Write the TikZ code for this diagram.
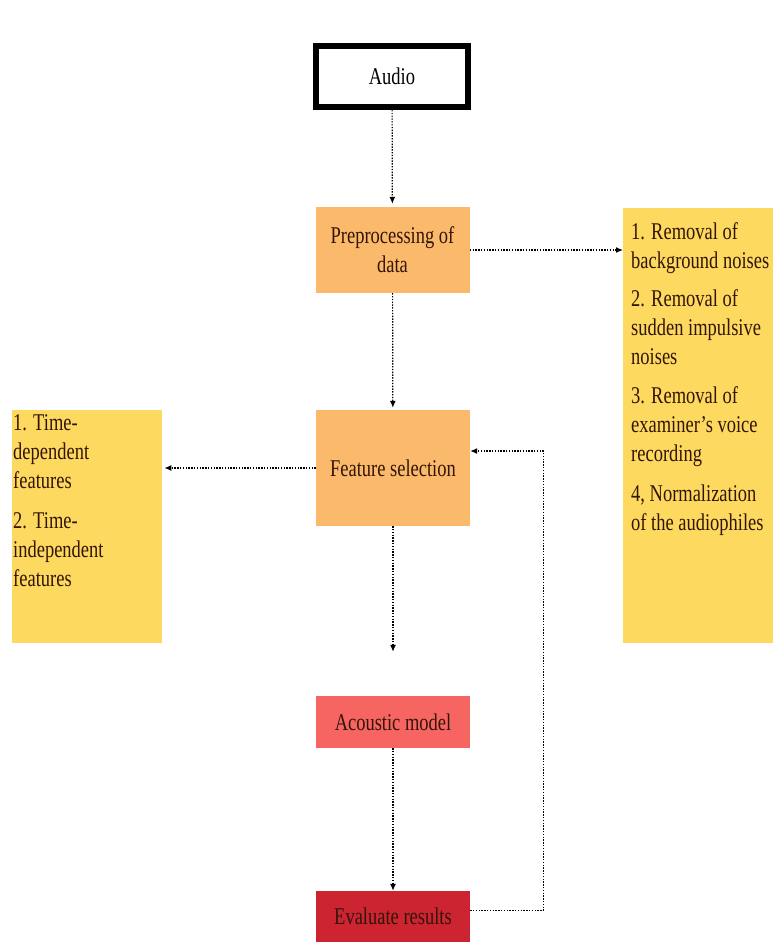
\documentclass[tikz,border=0pt]{standalone}
\usepackage{fontspec}
\setmainfont[FakeStretch=0.77]{Liberation Serif}
\usetikzlibrary{arrows.meta,calc}

\definecolor{stageorange}{HTML}{FBBA6B}
\definecolor{noteyellow}{HTML}{FDDA5F}
\definecolor{modelred}{HTML}{F76563}
\definecolor{evalred}{HTML}{CC2430}
\definecolor{inkbrown}{HTML}{331508}

\tikzset{
  stage/.style={rectangle, draw=none, minimum width=154pt, text=inkbrown,
    font=\fontsize{24}{29}\selectfont, align=center, inner sep=0pt},
  notebox/.style={rectangle, draw=none, fill=noteyellow, inner sep=0pt},
  notetext/.style={anchor=north west, align=left, inner sep=0pt, text=inkbrown,
    font=\fontsize{24}{29}\selectfont},
  flow/.style={line width=1.2pt, dash pattern=on 1.4pt off 1.4pt,
    -{Latex[length=7pt,width=6pt]}},
}

\begin{document}
\begin{tikzpicture}[x=1pt,y=-1pt]
  \useasboundingbox (0,0) rectangle (773,948);

  % main pipeline
  \node[rectangle, draw=black, line width=6pt, fill=white, minimum width=152pt,
        minimum height=61pt, font=\fontsize{24}{29}\selectfont, inner sep=0pt]
        (audio) at (392,76.5) {Audio};
  \node[stage, fill=stageorange, minimum height=86pt] (pre) at (392.5,250) {Preprocessing of\\data};
  \node[stage, fill=stageorange, minimum height=116pt] (fs) at (393,468) {Feature selection};
  \node[stage, fill=modelred, minimum height=52pt] (am) at (393,722) {Acoustic model};
  \node[stage, fill=evalred, minimum height=51pt] (ev) at (393,916.5) {Evaluate results};

  % side notes
  \node[notebox, minimum width=150pt, minimum height=435pt, anchor=north west] (rbox) at (623,208) {};
  \node[notetext] (rtext) at (631,222) {1. Removal of\\background noises\\[9pt]
    2. Removal of\\sudden impulsive\\noises\\[10pt]
    3. Removal of\\examiner’s voice\\recording\\[11pt]
    4, Normalization\\of the audiophiles};

  \node[notebox, minimum width=150pt, minimum height=233pt, anchor=north west] (lbox) at (12,410) {};
  \node[notetext] (ltext) at (13,414) {1. Time-\\dependent\\features\\[11pt]
    2. Time-\\independent\\features};

  % connectors
  \draw[flow, shorten >=3pt] (audio) -- (pre);
  \draw[flow, shorten >=2pt] (pre) -- (fs);
  \draw[flow, shorten >=44pt] (fs) -- (am);
  \draw[flow] (am) -- (ev);
  \draw[flow] (pre.east) -- (pre.east -| rbox.west);
  \draw[flow, shorten >=2pt] (fs.west) -- (fs.west -| lbox.east);
  % feedback loop from the evaluation back to feature selection
  \coordinate (evout) at ([yshift=6pt]ev.east);
  \coordinate (fsin) at ([yshift=17pt]fs.east);
  \coordinate (loop) at ($(evout)+(73,0)$);
  \draw[flow] (evout) -- (loop) -- (loop |- fsin) -- (fsin);
\end{tikzpicture}
\end{document}
